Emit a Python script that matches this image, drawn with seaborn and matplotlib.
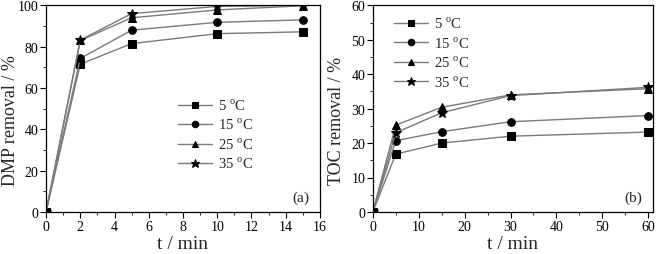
import matplotlib
matplotlib.use("Agg")
import matplotlib.pyplot as plt
import seaborn as sns
import pandas as pd
from matplotlib.ticker import MultipleLocator

sns.set_theme(style="ticks")
plt.rcParams['font.family'] = ['Liberation Serif', 'DejaVu Serif']
plt.rcParams['mathtext.fontset'] = 'custom'
plt.rcParams['mathtext.rm'] = 'Liberation Serif'

temps = ["5", "15", "25", "35"]
markers = ["s", "o", "^", "*"]

t_a = [0, 2, 5, 10, 15]
dmp_5 = [0, 71.5, 81.5, 86.3, 87.2]
dmp_15 = [0, 74.3, 88.0, 91.8, 93.0]
dmp_25 = [0, 83.0, 94.0, 97.8, 99.8]
dmp_35 = [0, 83.2, 96.0, 99.5, 100.0]

t_b = [0, 5, 15, 30, 60]
toc_5 = [0, 16.8, 20.0, 22.0, 23.2]
toc_15 = [0, 20.7, 23.3, 26.2, 28.0]
toc_25 = [0, 25.2, 30.4, 34.0, 35.8]
toc_35 = [0, 23.0, 28.8, 33.8, 36.2]

fig = plt.figure(figsize=(6.61, 2.55), dpi=100)
ax1 = fig.add_axes([0.0696, 0.165, 0.4145, 0.81])
ax2 = fig.add_axes([0.564, 0.165, 0.4236, 0.81])

def draw(ax, t, series, ylab, xlim, ylim, xmaj, xmin, ymaj, ymin, tag, leg_anchor, ylab_x):
    for temp, mk, vals in zip(temps, markers, series):
        df = pd.DataFrame({"t": t, "v": vals})
        ms = 7.5 if mk == "*" else 5.5
        sns.lineplot(data=df, x="t", y="v", ax=ax, color="#7a7a7a", lw=1.0,
                     marker=mk, markersize=ms, markerfacecolor="black",
                     markeredgecolor="black",
                     label=temp + r" $^{\mathrm{o}}$C")
    ax.set_xlim(*xlim)
    ax.set_ylim(*ylim)
    ax.xaxis.set_major_locator(MultipleLocator(xmaj))
    ax.xaxis.set_minor_locator(MultipleLocator(xmin))
    ax.yaxis.set_major_locator(MultipleLocator(ymaj))
    ax.yaxis.set_minor_locator(MultipleLocator(ymin))
    ax.tick_params(which="major", direction="out", length=4, width=0.8,
                   labelsize=10, pad=1.5, color="black", labelcolor="black")
    ax.tick_params(which="minor", direction="out", length=2.2, width=0.6, color="black")
    ax.tick_params(top=False, right=False, which="both")
    for s in ax.spines.values():
        s.set_color("black")
        s.set_linewidth(0.9)
    ax.set_xlabel("t / min", fontsize=14, labelpad=2)
    ax.set_ylabel(ylab, fontsize=13)
    ax.yaxis.set_label_coords(ylab_x, 0.445)
    ax.text(0.93, 0.07, tag, transform=ax.transAxes, fontsize=11, ha="center", va="center")
    ax.legend(loc="upper left", bbox_to_anchor=leg_anchor, frameon=False,
              fontsize=10.5, handlelength=2.3, handletextpad=0.4,
              labelspacing=0.28, borderaxespad=0, borderpad=0,
              markerscale=0.85)

draw(ax1, t_a, [dmp_5, dmp_15, dmp_25, dmp_35], "DMP removal / %",
     (0, 16), (0, 100), 2, 1, 20, 10, "(a)", (0.483, 0.555), -0.1)
draw(ax2, t_b, [toc_5, toc_15, toc_25, toc_35], "TOC removal / %",
     (0, 61), (0, 60), 10, 5, 10, 5, "(b)", (0.077, 0.95), -0.1)

fig.savefig("out.png", dpi=100)
